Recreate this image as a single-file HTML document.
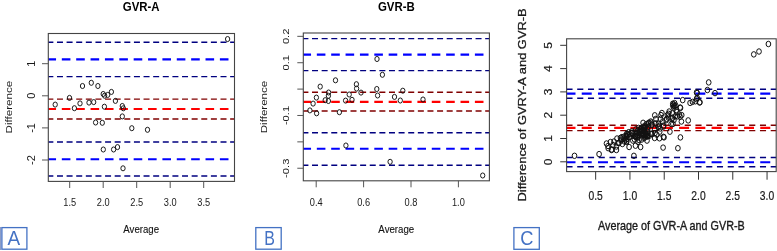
<!DOCTYPE html>
<html><head><meta charset="utf-8"><style>
html,body{margin:0;padding:0;background:#fff;}
body{width:777px;height:251px;overflow:hidden;}
svg{display:block;will-change:transform;}
text{font-family:"Liberation Sans",sans-serif;}
</style></head><body>
<svg width="777" height="251" viewBox="0 0 777 251" font-family="Liberation Sans, sans-serif">
<rect width="777" height="251" fill="#fff"/>
<line x1="48.30" y1="42.20" x2="234.50" y2="42.20" stroke="#000080" stroke-width="1.45" stroke-dasharray="6.0 3.62" stroke-dashoffset="0.95"/>
<line x1="48.30" y1="59.40" x2="234.50" y2="59.40" stroke="#0000ff" stroke-width="2.1" stroke-dasharray="8.6 5.77" stroke-dashoffset="0.85"/>
<line x1="48.30" y1="76.60" x2="234.50" y2="76.60" stroke="#000080" stroke-width="1.45" stroke-dasharray="6.0 3.62" stroke-dashoffset="0.95"/>
<line x1="48.30" y1="99.10" x2="234.50" y2="99.10" stroke="#800000" stroke-width="1.45" stroke-dasharray="6.0 3.62" stroke-dashoffset="0.95"/>
<line x1="48.30" y1="109.00" x2="234.50" y2="109.00" stroke="#ff0000" stroke-width="2.1" stroke-dasharray="8.6 5.77" stroke-dashoffset="0.85"/>
<line x1="48.30" y1="119.00" x2="234.50" y2="119.00" stroke="#800000" stroke-width="1.45" stroke-dasharray="6.0 3.62" stroke-dashoffset="0.95"/>
<line x1="48.30" y1="142.00" x2="234.50" y2="142.00" stroke="#000080" stroke-width="1.45" stroke-dasharray="6.0 3.62" stroke-dashoffset="0.95"/>
<line x1="48.30" y1="159.30" x2="234.50" y2="159.30" stroke="#0000ff" stroke-width="2.1" stroke-dasharray="8.6 5.77" stroke-dashoffset="0.85"/>
<line x1="48.30" y1="175.90" x2="234.50" y2="175.90" stroke="#000080" stroke-width="1.45" stroke-dasharray="6.0 3.62" stroke-dashoffset="0.95"/>
<ellipse cx="55.20" cy="104.60" rx="2.15" ry="2.55" fill="none" stroke="#111" stroke-width="0.95"/>
<ellipse cx="69.50" cy="97.90" rx="2.15" ry="2.55" fill="none" stroke="#111" stroke-width="0.95"/>
<ellipse cx="74.40" cy="108.20" rx="2.15" ry="2.55" fill="none" stroke="#111" stroke-width="0.95"/>
<ellipse cx="80.00" cy="103.40" rx="2.15" ry="2.55" fill="none" stroke="#111" stroke-width="0.95"/>
<ellipse cx="82.50" cy="86.00" rx="2.15" ry="2.55" fill="none" stroke="#111" stroke-width="0.95"/>
<ellipse cx="91.30" cy="82.80" rx="2.15" ry="2.55" fill="none" stroke="#111" stroke-width="0.95"/>
<ellipse cx="97.90" cy="86.00" rx="2.15" ry="2.55" fill="none" stroke="#111" stroke-width="0.95"/>
<ellipse cx="89.00" cy="102.60" rx="2.15" ry="2.55" fill="none" stroke="#111" stroke-width="0.95"/>
<ellipse cx="93.70" cy="102.10" rx="2.15" ry="2.55" fill="none" stroke="#111" stroke-width="0.95"/>
<ellipse cx="103.20" cy="94.00" rx="2.15" ry="2.55" fill="none" stroke="#111" stroke-width="0.95"/>
<ellipse cx="104.60" cy="95.70" rx="2.15" ry="2.55" fill="none" stroke="#111" stroke-width="0.95"/>
<ellipse cx="107.70" cy="94.90" rx="2.15" ry="2.55" fill="none" stroke="#111" stroke-width="0.95"/>
<ellipse cx="111.40" cy="91.90" rx="2.15" ry="2.55" fill="none" stroke="#111" stroke-width="0.95"/>
<ellipse cx="104.40" cy="106.70" rx="2.15" ry="2.55" fill="none" stroke="#111" stroke-width="0.95"/>
<ellipse cx="115.40" cy="100.90" rx="2.15" ry="2.55" fill="none" stroke="#111" stroke-width="0.95"/>
<ellipse cx="122.30" cy="106.00" rx="2.15" ry="2.55" fill="none" stroke="#111" stroke-width="0.95"/>
<ellipse cx="123.30" cy="108.30" rx="2.15" ry="2.55" fill="none" stroke="#111" stroke-width="0.95"/>
<ellipse cx="122.30" cy="116.40" rx="2.15" ry="2.55" fill="none" stroke="#111" stroke-width="0.95"/>
<ellipse cx="95.60" cy="122.50" rx="2.15" ry="2.55" fill="none" stroke="#111" stroke-width="0.95"/>
<ellipse cx="102.30" cy="122.80" rx="2.15" ry="2.55" fill="none" stroke="#111" stroke-width="0.95"/>
<ellipse cx="131.80" cy="128.20" rx="2.15" ry="2.55" fill="none" stroke="#111" stroke-width="0.95"/>
<ellipse cx="147.50" cy="129.80" rx="2.15" ry="2.55" fill="none" stroke="#111" stroke-width="0.95"/>
<ellipse cx="103.30" cy="149.50" rx="2.15" ry="2.55" fill="none" stroke="#111" stroke-width="0.95"/>
<ellipse cx="113.60" cy="149.50" rx="2.15" ry="2.55" fill="none" stroke="#111" stroke-width="0.95"/>
<ellipse cx="117.50" cy="147.10" rx="2.15" ry="2.55" fill="none" stroke="#111" stroke-width="0.95"/>
<ellipse cx="123.00" cy="168.30" rx="2.15" ry="2.55" fill="none" stroke="#111" stroke-width="0.95"/>
<ellipse cx="227.60" cy="39.05" rx="2.15" ry="2.55" fill="none" stroke="#111" stroke-width="0.95"/>
<rect x="48.30" y="33.50" width="186.20" height="147.90" fill="none" stroke="#444" stroke-width="1.1"/>
<line x1="42.00" y1="63.70" x2="48.30" y2="63.70" stroke="#555" stroke-width="1.0"/>
<g transform="translate(34.60,63.70) scale(0.93,1) rotate(-90)"><text x="0" y="0" font-size="11" font-weight="normal" text-anchor="middle" fill="#1a1a1a">1</text></g>
<line x1="42.00" y1="95.80" x2="48.30" y2="95.80" stroke="#555" stroke-width="1.0"/>
<g transform="translate(34.60,95.80) scale(0.93,1) rotate(-90)"><text x="0" y="0" font-size="11" font-weight="normal" text-anchor="middle" fill="#1a1a1a">0</text></g>
<line x1="42.00" y1="127.90" x2="48.30" y2="127.90" stroke="#555" stroke-width="1.0"/>
<g transform="translate(34.60,127.90) scale(0.93,1) rotate(-90)"><text x="0" y="0" font-size="11" font-weight="normal" text-anchor="middle" fill="#1a1a1a">-1</text></g>
<line x1="42.00" y1="160.00" x2="48.30" y2="160.00" stroke="#555" stroke-width="1.0"/>
<g transform="translate(34.60,160.00) scale(0.93,1) rotate(-90)"><text x="0" y="0" font-size="11" font-weight="normal" text-anchor="middle" fill="#1a1a1a">-2</text></g>
<line x1="69.70" y1="181.40" x2="69.70" y2="188.00" stroke="#555" stroke-width="1.0"/>
<g transform="translate(69.70,205.80) scale(0.88,1)"><text x="0" y="0" font-size="10.5" font-weight="normal" text-anchor="middle" fill="#1a1a1a">1.5</text></g>
<line x1="103.20" y1="181.40" x2="103.20" y2="188.00" stroke="#555" stroke-width="1.0"/>
<g transform="translate(103.20,205.80) scale(0.88,1)"><text x="0" y="0" font-size="10.5" font-weight="normal" text-anchor="middle" fill="#1a1a1a">2.0</text></g>
<line x1="136.70" y1="181.40" x2="136.70" y2="188.00" stroke="#555" stroke-width="1.0"/>
<g transform="translate(136.70,205.80) scale(0.88,1)"><text x="0" y="0" font-size="10.5" font-weight="normal" text-anchor="middle" fill="#1a1a1a">2.5</text></g>
<line x1="170.20" y1="181.40" x2="170.20" y2="188.00" stroke="#555" stroke-width="1.0"/>
<g transform="translate(170.20,205.80) scale(0.88,1)"><text x="0" y="0" font-size="10.5" font-weight="normal" text-anchor="middle" fill="#1a1a1a">3.0</text></g>
<line x1="203.70" y1="181.40" x2="203.70" y2="188.00" stroke="#555" stroke-width="1.0"/>
<g transform="translate(203.70,205.80) scale(0.88,1)"><text x="0" y="0" font-size="10.5" font-weight="normal" text-anchor="middle" fill="#1a1a1a">3.5</text></g>
<g transform="translate(141.20,10.80) scale(0.88,1)"><text x="0" y="0" font-size="13" font-weight="bold" text-anchor="middle" fill="#000">GVR-A</text></g>
<g transform="translate(141.20,233.10) scale(0.88,1)"><text x="0" y="0" font-size="11" font-weight="normal" text-anchor="middle" fill="#111" stroke="#111" stroke-width="0.12">Average</text></g>
<g transform="translate(11.90,107.10) scale(0.835,1) rotate(-90)"><text x="0" y="0" font-size="11.6" font-weight="normal" text-anchor="middle" fill="#1a1a1a">Difference</text></g>
<line x1="303.30" y1="38.60" x2="489.40" y2="38.60" stroke="#000080" stroke-width="1.45" stroke-dasharray="6.0 3.62" stroke-dashoffset="0.90"/>
<line x1="303.30" y1="54.60" x2="489.40" y2="54.60" stroke="#0000ff" stroke-width="2.1" stroke-dasharray="8.6 5.77" stroke-dashoffset="0.85"/>
<line x1="303.30" y1="70.60" x2="489.40" y2="70.60" stroke="#000080" stroke-width="1.45" stroke-dasharray="6.0 3.62" stroke-dashoffset="0.90"/>
<line x1="303.30" y1="92.20" x2="489.40" y2="92.20" stroke="#800000" stroke-width="1.45" stroke-dasharray="6.0 3.62" stroke-dashoffset="0.90"/>
<line x1="303.30" y1="101.90" x2="489.40" y2="101.90" stroke="#ff0000" stroke-width="2.1" stroke-dasharray="8.6 5.77" stroke-dashoffset="0.85"/>
<line x1="303.30" y1="110.90" x2="489.40" y2="110.90" stroke="#800000" stroke-width="1.45" stroke-dasharray="6.0 3.62" stroke-dashoffset="0.90"/>
<line x1="303.30" y1="132.80" x2="489.40" y2="132.80" stroke="#000080" stroke-width="1.45" stroke-dasharray="6.0 3.62" stroke-dashoffset="0.90"/>
<line x1="303.30" y1="148.80" x2="489.40" y2="148.80" stroke="#0000ff" stroke-width="2.1" stroke-dasharray="8.6 5.77" stroke-dashoffset="0.85"/>
<line x1="303.30" y1="165.30" x2="489.40" y2="165.30" stroke="#000080" stroke-width="1.45" stroke-dasharray="6.0 3.62" stroke-dashoffset="0.90"/>
<ellipse cx="335.50" cy="80.30" rx="2.15" ry="2.55" fill="none" stroke="#111" stroke-width="0.95"/>
<ellipse cx="320.20" cy="86.60" rx="2.15" ry="2.55" fill="none" stroke="#111" stroke-width="0.95"/>
<ellipse cx="328.60" cy="92.50" rx="2.15" ry="2.55" fill="none" stroke="#111" stroke-width="0.95"/>
<ellipse cx="328.40" cy="95.80" rx="2.15" ry="2.55" fill="none" stroke="#111" stroke-width="0.95"/>
<ellipse cx="316.40" cy="97.60" rx="2.15" ry="2.55" fill="none" stroke="#111" stroke-width="0.95"/>
<ellipse cx="325.20" cy="100.20" rx="2.15" ry="2.55" fill="none" stroke="#111" stroke-width="0.95"/>
<ellipse cx="328.40" cy="101.00" rx="2.15" ry="2.55" fill="none" stroke="#111" stroke-width="0.95"/>
<ellipse cx="313.10" cy="103.60" rx="2.15" ry="2.55" fill="none" stroke="#111" stroke-width="0.95"/>
<ellipse cx="309.90" cy="110.40" rx="2.15" ry="2.55" fill="none" stroke="#111" stroke-width="0.95"/>
<ellipse cx="316.60" cy="113.30" rx="2.15" ry="2.55" fill="none" stroke="#111" stroke-width="0.95"/>
<ellipse cx="339.40" cy="112.20" rx="2.15" ry="2.55" fill="none" stroke="#111" stroke-width="0.95"/>
<ellipse cx="356.40" cy="84.20" rx="2.15" ry="2.55" fill="none" stroke="#111" stroke-width="0.95"/>
<ellipse cx="356.60" cy="88.60" rx="2.15" ry="2.55" fill="none" stroke="#111" stroke-width="0.95"/>
<ellipse cx="361.00" cy="92.60" rx="2.15" ry="2.55" fill="none" stroke="#111" stroke-width="0.95"/>
<ellipse cx="349.20" cy="94.50" rx="2.15" ry="2.55" fill="none" stroke="#111" stroke-width="0.95"/>
<ellipse cx="345.60" cy="100.60" rx="2.15" ry="2.55" fill="none" stroke="#111" stroke-width="0.95"/>
<ellipse cx="352.00" cy="99.80" rx="2.15" ry="2.55" fill="none" stroke="#111" stroke-width="0.95"/>
<ellipse cx="376.80" cy="89.00" rx="2.15" ry="2.55" fill="none" stroke="#111" stroke-width="0.95"/>
<ellipse cx="377.60" cy="95.50" rx="2.15" ry="2.55" fill="none" stroke="#111" stroke-width="0.95"/>
<ellipse cx="377.00" cy="59.00" rx="2.15" ry="2.55" fill="none" stroke="#111" stroke-width="0.95"/>
<ellipse cx="382.40" cy="74.80" rx="2.15" ry="2.55" fill="none" stroke="#111" stroke-width="0.95"/>
<ellipse cx="402.80" cy="90.70" rx="2.15" ry="2.55" fill="none" stroke="#111" stroke-width="0.95"/>
<ellipse cx="394.50" cy="96.90" rx="2.15" ry="2.55" fill="none" stroke="#111" stroke-width="0.95"/>
<ellipse cx="400.30" cy="100.50" rx="2.15" ry="2.55" fill="none" stroke="#111" stroke-width="0.95"/>
<ellipse cx="423.00" cy="99.50" rx="2.15" ry="2.55" fill="none" stroke="#111" stroke-width="0.95"/>
<ellipse cx="345.90" cy="145.50" rx="2.15" ry="2.55" fill="none" stroke="#111" stroke-width="0.95"/>
<ellipse cx="390.10" cy="161.80" rx="2.15" ry="2.55" fill="none" stroke="#111" stroke-width="0.95"/>
<ellipse cx="482.70" cy="175.50" rx="2.15" ry="2.55" fill="none" stroke="#111" stroke-width="0.95"/>
<rect x="303.30" y="33.00" width="186.10" height="147.80" fill="none" stroke="#444" stroke-width="1.1"/>
<line x1="297.30" y1="36.34" x2="303.30" y2="36.34" stroke="#555" stroke-width="1.0"/>
<g transform="translate(289.30,36.34) scale(0.88,1) rotate(-90)"><text x="0" y="0" font-size="11.2" font-weight="normal" text-anchor="middle" fill="#1a1a1a">0.2</text></g>
<line x1="297.30" y1="62.72" x2="303.30" y2="62.72" stroke="#555" stroke-width="1.0"/>
<g transform="translate(289.30,62.72) scale(0.88,1) rotate(-90)"><text x="0" y="0" font-size="11.2" font-weight="normal" text-anchor="middle" fill="#1a1a1a">0.1</text></g>
<line x1="297.30" y1="89.10" x2="303.30" y2="89.10" stroke="#555" stroke-width="1.0"/>
<line x1="297.30" y1="115.48" x2="303.30" y2="115.48" stroke="#555" stroke-width="1.0"/>
<g transform="translate(289.30,115.48) scale(0.88,1) rotate(-90)"><text x="0" y="0" font-size="11.2" font-weight="normal" text-anchor="middle" fill="#1a1a1a">-0.1</text></g>
<line x1="297.30" y1="141.86" x2="303.30" y2="141.86" stroke="#555" stroke-width="1.0"/>
<line x1="297.30" y1="168.24" x2="303.30" y2="168.24" stroke="#555" stroke-width="1.0"/>
<g transform="translate(289.30,168.24) scale(0.88,1) rotate(-90)"><text x="0" y="0" font-size="11.2" font-weight="normal" text-anchor="middle" fill="#1a1a1a">-0.3</text></g>
<line x1="316.20" y1="180.80" x2="316.20" y2="187.30" stroke="#555" stroke-width="1.0"/>
<g transform="translate(316.20,205.80) scale(0.88,1)"><text x="0" y="0" font-size="10.5" font-weight="normal" text-anchor="middle" fill="#1a1a1a">0.4</text></g>
<line x1="363.60" y1="180.80" x2="363.60" y2="187.30" stroke="#555" stroke-width="1.0"/>
<g transform="translate(363.60,205.80) scale(0.88,1)"><text x="0" y="0" font-size="10.5" font-weight="normal" text-anchor="middle" fill="#1a1a1a">0.6</text></g>
<line x1="411.00" y1="180.80" x2="411.00" y2="187.30" stroke="#555" stroke-width="1.0"/>
<g transform="translate(411.00,205.80) scale(0.88,1)"><text x="0" y="0" font-size="10.5" font-weight="normal" text-anchor="middle" fill="#1a1a1a">0.8</text></g>
<line x1="458.40" y1="180.80" x2="458.40" y2="187.30" stroke="#555" stroke-width="1.0"/>
<g transform="translate(458.40,205.80) scale(0.88,1)"><text x="0" y="0" font-size="10.5" font-weight="normal" text-anchor="middle" fill="#1a1a1a">1.0</text></g>
<g transform="translate(396.30,10.55) scale(0.88,1)"><text x="0" y="0" font-size="13" font-weight="bold" text-anchor="middle" fill="#000">GVR-B</text></g>
<g transform="translate(396.30,232.80) scale(0.88,1)"><text x="0" y="0" font-size="11" font-weight="normal" text-anchor="middle" fill="#111" stroke="#111" stroke-width="0.12">Average</text></g>
<g transform="translate(266.90,107.00) scale(0.835,1) rotate(-90)"><text x="0" y="0" font-size="11.6" font-weight="normal" text-anchor="middle" fill="#1a1a1a">Difference</text></g>
<line x1="566.60" y1="89.20" x2="776.20" y2="89.20" stroke="#000080" stroke-width="1.4" stroke-dasharray="6.1 4.65" stroke-dashoffset="0.15"/>
<line x1="566.60" y1="93.60" x2="776.20" y2="93.60" stroke="#0000ff" stroke-width="2.1" stroke-dasharray="10.0 6.23" stroke-dashoffset="1.10"/>
<line x1="566.60" y1="98.30" x2="776.20" y2="98.30" stroke="#000080" stroke-width="1.4" stroke-dasharray="6.1 4.65" stroke-dashoffset="0.15"/>
<line x1="566.60" y1="125.20" x2="776.20" y2="125.20" stroke="#800000" stroke-width="1.4" stroke-dasharray="6.1 4.65" stroke-dashoffset="0.15"/>
<line x1="566.60" y1="127.90" x2="776.20" y2="127.90" stroke="#ff0000" stroke-width="2.1" stroke-dasharray="10.0 6.23" stroke-dashoffset="1.10"/>
<line x1="566.60" y1="130.60" x2="776.20" y2="130.60" stroke="#800000" stroke-width="1.4" stroke-dasharray="6.1 4.65" stroke-dashoffset="0.15"/>
<line x1="566.60" y1="157.50" x2="776.20" y2="157.50" stroke="#000080" stroke-width="1.4" stroke-dasharray="6.1 4.65" stroke-dashoffset="0.15"/>
<line x1="566.60" y1="162.30" x2="776.20" y2="162.30" stroke="#0000ff" stroke-width="2.1" stroke-dasharray="10.0 6.23" stroke-dashoffset="1.10"/>
<line x1="566.60" y1="166.70" x2="776.20" y2="166.70" stroke="#000080" stroke-width="1.4" stroke-dasharray="6.1 4.65" stroke-dashoffset="0.15"/>
<ellipse cx="599.10" cy="154.10" rx="2.35" ry="2.75" fill="none" stroke="#111" stroke-width="1.0"/>
<ellipse cx="633.90" cy="155.80" rx="2.35" ry="2.75" fill="none" stroke="#111" stroke-width="1.0"/>
<ellipse cx="574.50" cy="155.80" rx="2.35" ry="2.75" fill="none" stroke="#111" stroke-width="1.0"/>
<ellipse cx="768.40" cy="44.00" rx="2.35" ry="2.75" fill="none" stroke="#111" stroke-width="1.0"/>
<ellipse cx="753.80" cy="54.40" rx="2.35" ry="2.75" fill="none" stroke="#111" stroke-width="1.0"/>
<ellipse cx="759.00" cy="51.50" rx="2.35" ry="2.75" fill="none" stroke="#111" stroke-width="1.0"/>
<ellipse cx="708.70" cy="82.40" rx="2.35" ry="2.75" fill="none" stroke="#111" stroke-width="1.0"/>
<ellipse cx="707.40" cy="90.00" rx="2.35" ry="2.75" fill="none" stroke="#111" stroke-width="1.0"/>
<ellipse cx="715.00" cy="93.10" rx="2.35" ry="2.75" fill="none" stroke="#111" stroke-width="1.0"/>
<ellipse cx="697.10" cy="93.00" rx="2.35" ry="2.75" fill="none" stroke="#111" stroke-width="1.0"/>
<ellipse cx="697.10" cy="97.90" rx="2.35" ry="2.75" fill="none" stroke="#111" stroke-width="1.0"/>
<ellipse cx="699.90" cy="102.20" rx="2.35" ry="2.75" fill="none" stroke="#111" stroke-width="1.0"/>
<ellipse cx="696.60" cy="92.40" rx="2.35" ry="2.75" fill="none" stroke="#111" stroke-width="1.0"/>
<ellipse cx="682.70" cy="100.10" rx="2.35" ry="2.75" fill="none" stroke="#111" stroke-width="1.0"/>
<ellipse cx="690.10" cy="102.90" rx="2.35" ry="2.75" fill="none" stroke="#111" stroke-width="1.0"/>
<ellipse cx="692.50" cy="101.90" rx="2.35" ry="2.75" fill="none" stroke="#111" stroke-width="1.0"/>
<ellipse cx="695.40" cy="101.30" rx="2.35" ry="2.75" fill="none" stroke="#111" stroke-width="1.0"/>
<ellipse cx="696.60" cy="99.00" rx="2.35" ry="2.75" fill="none" stroke="#111" stroke-width="1.0"/>
<ellipse cx="699.60" cy="102.50" rx="2.35" ry="2.75" fill="none" stroke="#111" stroke-width="1.0"/>
<ellipse cx="672.80" cy="103.70" rx="2.35" ry="2.75" fill="none" stroke="#111" stroke-width="1.0"/>
<ellipse cx="672.80" cy="105.50" rx="2.35" ry="2.75" fill="none" stroke="#111" stroke-width="1.0"/>
<ellipse cx="674.60" cy="103.10" rx="2.35" ry="2.75" fill="none" stroke="#111" stroke-width="1.0"/>
<ellipse cx="675.70" cy="105.50" rx="2.35" ry="2.75" fill="none" stroke="#111" stroke-width="1.0"/>
<ellipse cx="680.50" cy="107.90" rx="2.35" ry="2.75" fill="none" stroke="#111" stroke-width="1.0"/>
<ellipse cx="669.20" cy="111.50" rx="2.35" ry="2.75" fill="none" stroke="#111" stroke-width="1.0"/>
<ellipse cx="672.20" cy="113.30" rx="2.35" ry="2.75" fill="none" stroke="#111" stroke-width="1.0"/>
<ellipse cx="676.90" cy="112.10" rx="2.35" ry="2.75" fill="none" stroke="#111" stroke-width="1.0"/>
<ellipse cx="679.30" cy="114.50" rx="2.35" ry="2.75" fill="none" stroke="#111" stroke-width="1.0"/>
<ellipse cx="681.70" cy="115.10" rx="2.35" ry="2.75" fill="none" stroke="#111" stroke-width="1.0"/>
<ellipse cx="667.40" cy="115.10" rx="2.35" ry="2.75" fill="none" stroke="#111" stroke-width="1.0"/>
<ellipse cx="675.10" cy="116.30" rx="2.35" ry="2.75" fill="none" stroke="#111" stroke-width="1.0"/>
<ellipse cx="688.20" cy="120.40" rx="2.35" ry="2.75" fill="none" stroke="#111" stroke-width="1.0"/>
<ellipse cx="680.10" cy="116.80" rx="2.35" ry="2.75" fill="none" stroke="#111" stroke-width="1.0"/>
<ellipse cx="680.40" cy="137.40" rx="2.35" ry="2.75" fill="none" stroke="#111" stroke-width="1.0"/>
<ellipse cx="663.10" cy="147.60" rx="2.35" ry="2.75" fill="none" stroke="#111" stroke-width="1.0"/>
<ellipse cx="677.90" cy="148.20" rx="2.35" ry="2.75" fill="none" stroke="#111" stroke-width="1.0"/>
<ellipse cx="664.00" cy="137.40" rx="2.35" ry="2.75" fill="none" stroke="#111" stroke-width="1.0"/>
<ellipse cx="659.50" cy="138.30" rx="2.35" ry="2.75" fill="none" stroke="#111" stroke-width="1.0"/>
<ellipse cx="656.80" cy="134.70" rx="2.35" ry="2.75" fill="none" stroke="#111" stroke-width="1.0"/>
<ellipse cx="672.90" cy="124.00" rx="2.35" ry="2.75" fill="none" stroke="#111" stroke-width="1.0"/>
<ellipse cx="672.00" cy="118.60" rx="2.35" ry="2.75" fill="none" stroke="#111" stroke-width="1.0"/>
<ellipse cx="668.40" cy="117.70" rx="2.35" ry="2.75" fill="none" stroke="#111" stroke-width="1.0"/>
<ellipse cx="606.50" cy="143.50" rx="2.35" ry="2.75" fill="none" stroke="#111" stroke-width="1.0"/>
<ellipse cx="608.00" cy="146.00" rx="2.35" ry="2.75" fill="none" stroke="#111" stroke-width="1.0"/>
<ellipse cx="610.50" cy="142.00" rx="2.35" ry="2.75" fill="none" stroke="#111" stroke-width="1.0"/>
<ellipse cx="611.50" cy="150.00" rx="2.35" ry="2.75" fill="none" stroke="#111" stroke-width="1.0"/>
<ellipse cx="613.00" cy="145.00" rx="2.35" ry="2.75" fill="none" stroke="#111" stroke-width="1.0"/>
<ellipse cx="614.00" cy="141.50" rx="2.35" ry="2.75" fill="none" stroke="#111" stroke-width="1.0"/>
<ellipse cx="616.40" cy="150.00" rx="2.35" ry="2.75" fill="none" stroke="#111" stroke-width="1.0"/>
<ellipse cx="616.40" cy="146.50" rx="2.35" ry="2.75" fill="none" stroke="#111" stroke-width="1.0"/>
<ellipse cx="617.00" cy="138.50" rx="2.35" ry="2.75" fill="none" stroke="#111" stroke-width="1.0"/>
<ellipse cx="618.00" cy="143.00" rx="2.35" ry="2.75" fill="none" stroke="#111" stroke-width="1.0"/>
<ellipse cx="621.00" cy="140.50" rx="2.35" ry="2.75" fill="none" stroke="#111" stroke-width="1.0"/>
<ellipse cx="622.00" cy="137.00" rx="2.35" ry="2.75" fill="none" stroke="#111" stroke-width="1.0"/>
<ellipse cx="622.40" cy="144.00" rx="2.35" ry="2.75" fill="none" stroke="#111" stroke-width="1.0"/>
<ellipse cx="624.40" cy="141.50" rx="2.35" ry="2.75" fill="none" stroke="#111" stroke-width="1.0"/>
<ellipse cx="625.00" cy="136.00" rx="2.35" ry="2.75" fill="none" stroke="#111" stroke-width="1.0"/>
<ellipse cx="627.00" cy="139.00" rx="2.35" ry="2.75" fill="none" stroke="#111" stroke-width="1.0"/>
<ellipse cx="627.00" cy="134.00" rx="2.35" ry="2.75" fill="none" stroke="#111" stroke-width="1.0"/>
<ellipse cx="608.20" cy="148.20" rx="2.35" ry="2.75" fill="none" stroke="#111" stroke-width="1.0"/>
<ellipse cx="611.80" cy="149.50" rx="2.35" ry="2.75" fill="none" stroke="#111" stroke-width="1.0"/>
<ellipse cx="618.90" cy="143.10" rx="2.35" ry="2.75" fill="none" stroke="#111" stroke-width="1.0"/>
<ellipse cx="621.50" cy="139.30" rx="2.35" ry="2.75" fill="none" stroke="#111" stroke-width="1.0"/>
<ellipse cx="626.60" cy="141.90" rx="2.35" ry="2.75" fill="none" stroke="#111" stroke-width="1.0"/>
<ellipse cx="629.10" cy="147.00" rx="2.35" ry="2.75" fill="none" stroke="#111" stroke-width="1.0"/>
<ellipse cx="629.10" cy="136.80" rx="2.35" ry="2.75" fill="none" stroke="#111" stroke-width="1.0"/>
<ellipse cx="631.70" cy="132.90" rx="2.35" ry="2.75" fill="none" stroke="#111" stroke-width="1.0"/>
<ellipse cx="632.90" cy="140.60" rx="2.35" ry="2.75" fill="none" stroke="#111" stroke-width="1.0"/>
<ellipse cx="635.50" cy="145.70" rx="2.35" ry="2.75" fill="none" stroke="#111" stroke-width="1.0"/>
<ellipse cx="636.80" cy="136.80" rx="2.35" ry="2.75" fill="none" stroke="#111" stroke-width="1.0"/>
<ellipse cx="638.00" cy="141.90" rx="2.35" ry="2.75" fill="none" stroke="#111" stroke-width="1.0"/>
<ellipse cx="640.60" cy="147.00" rx="2.35" ry="2.75" fill="none" stroke="#111" stroke-width="1.0"/>
<ellipse cx="639.30" cy="131.70" rx="2.35" ry="2.75" fill="none" stroke="#111" stroke-width="1.0"/>
<ellipse cx="641.90" cy="127.80" rx="2.35" ry="2.75" fill="none" stroke="#111" stroke-width="1.0"/>
<ellipse cx="643.10" cy="122.80" rx="2.35" ry="2.75" fill="none" stroke="#111" stroke-width="1.0"/>
<ellipse cx="644.40" cy="136.80" rx="2.35" ry="2.75" fill="none" stroke="#111" stroke-width="1.0"/>
<ellipse cx="647.00" cy="140.60" rx="2.35" ry="2.75" fill="none" stroke="#111" stroke-width="1.0"/>
<ellipse cx="647.00" cy="131.70" rx="2.35" ry="2.75" fill="none" stroke="#111" stroke-width="1.0"/>
<ellipse cx="648.20" cy="126.60" rx="2.35" ry="2.75" fill="none" stroke="#111" stroke-width="1.0"/>
<ellipse cx="650.80" cy="121.50" rx="2.35" ry="2.75" fill="none" stroke="#111" stroke-width="1.0"/>
<ellipse cx="652.10" cy="134.20" rx="2.35" ry="2.75" fill="none" stroke="#111" stroke-width="1.0"/>
<ellipse cx="654.60" cy="138.00" rx="2.35" ry="2.75" fill="none" stroke="#111" stroke-width="1.0"/>
<ellipse cx="654.60" cy="129.10" rx="2.35" ry="2.75" fill="none" stroke="#111" stroke-width="1.0"/>
<ellipse cx="655.90" cy="118.90" rx="2.35" ry="2.75" fill="none" stroke="#111" stroke-width="1.0"/>
<ellipse cx="658.40" cy="124.00" rx="2.35" ry="2.75" fill="none" stroke="#111" stroke-width="1.0"/>
<ellipse cx="659.70" cy="131.70" rx="2.35" ry="2.75" fill="none" stroke="#111" stroke-width="1.0"/>
<ellipse cx="661.00" cy="115.10" rx="2.35" ry="2.75" fill="none" stroke="#111" stroke-width="1.0"/>
<ellipse cx="663.50" cy="126.60" rx="2.35" ry="2.75" fill="none" stroke="#111" stroke-width="1.0"/>
<ellipse cx="663.50" cy="136.80" rx="2.35" ry="2.75" fill="none" stroke="#111" stroke-width="1.0"/>
<ellipse cx="666.10" cy="120.20" rx="2.35" ry="2.75" fill="none" stroke="#111" stroke-width="1.0"/>
<ellipse cx="668.60" cy="113.80" rx="2.35" ry="2.75" fill="none" stroke="#111" stroke-width="1.0"/>
<ellipse cx="669.90" cy="131.70" rx="2.35" ry="2.75" fill="none" stroke="#111" stroke-width="1.0"/>
<ellipse cx="671.20" cy="124.00" rx="2.35" ry="2.75" fill="none" stroke="#111" stroke-width="1.0"/>
<ellipse cx="672.40" cy="117.70" rx="2.35" ry="2.75" fill="none" stroke="#111" stroke-width="1.0"/>
<ellipse cx="673.70" cy="107.50" rx="2.35" ry="2.75" fill="none" stroke="#111" stroke-width="1.0"/>
<ellipse cx="676.30" cy="110.00" rx="2.35" ry="2.75" fill="none" stroke="#111" stroke-width="1.0"/>
<ellipse cx="677.50" cy="116.40" rx="2.35" ry="2.75" fill="none" stroke="#111" stroke-width="1.0"/>
<ellipse cx="680.10" cy="107.50" rx="2.35" ry="2.75" fill="none" stroke="#111" stroke-width="1.0"/>
<ellipse cx="681.40" cy="121.50" rx="2.35" ry="2.75" fill="none" stroke="#111" stroke-width="1.0"/>
<ellipse cx="673.50" cy="104.50" rx="2.35" ry="2.75" fill="none" stroke="#111" stroke-width="1.0"/>
<ellipse cx="674.50" cy="106.20" rx="2.35" ry="2.75" fill="none" stroke="#111" stroke-width="1.0"/>
<ellipse cx="654.80" cy="115.30" rx="2.35" ry="2.75" fill="none" stroke="#111" stroke-width="1.0"/>
<ellipse cx="661.90" cy="113.00" rx="2.35" ry="2.75" fill="none" stroke="#111" stroke-width="1.0"/>
<ellipse cx="666.70" cy="118.90" rx="2.35" ry="2.75" fill="none" stroke="#111" stroke-width="1.0"/>
<ellipse cx="673.90" cy="120.10" rx="2.35" ry="2.75" fill="none" stroke="#111" stroke-width="1.0"/>
<ellipse cx="634.74" cy="135.93" rx="2.35" ry="2.75" fill="none" stroke="#111" stroke-width="1.0"/>
<ellipse cx="644.36" cy="130.90" rx="2.35" ry="2.75" fill="none" stroke="#111" stroke-width="1.0"/>
<ellipse cx="635.61" cy="135.92" rx="2.35" ry="2.75" fill="none" stroke="#111" stroke-width="1.0"/>
<ellipse cx="629.41" cy="137.28" rx="2.35" ry="2.75" fill="none" stroke="#111" stroke-width="1.0"/>
<ellipse cx="637.53" cy="137.72" rx="2.35" ry="2.75" fill="none" stroke="#111" stroke-width="1.0"/>
<ellipse cx="626.72" cy="136.10" rx="2.35" ry="2.75" fill="none" stroke="#111" stroke-width="1.0"/>
<ellipse cx="626.60" cy="141.33" rx="2.35" ry="2.75" fill="none" stroke="#111" stroke-width="1.0"/>
<ellipse cx="638.65" cy="127.90" rx="2.35" ry="2.75" fill="none" stroke="#111" stroke-width="1.0"/>
<ellipse cx="647.27" cy="136.44" rx="2.35" ry="2.75" fill="none" stroke="#111" stroke-width="1.0"/>
<ellipse cx="637.94" cy="135.36" rx="2.35" ry="2.75" fill="none" stroke="#111" stroke-width="1.0"/>
<ellipse cx="628.69" cy="132.21" rx="2.35" ry="2.75" fill="none" stroke="#111" stroke-width="1.0"/>
<ellipse cx="635.93" cy="129.35" rx="2.35" ry="2.75" fill="none" stroke="#111" stroke-width="1.0"/>
<ellipse cx="629.56" cy="134.28" rx="2.35" ry="2.75" fill="none" stroke="#111" stroke-width="1.0"/>
<ellipse cx="623.80" cy="138.83" rx="2.35" ry="2.75" fill="none" stroke="#111" stroke-width="1.0"/>
<ellipse cx="634.54" cy="139.41" rx="2.35" ry="2.75" fill="none" stroke="#111" stroke-width="1.0"/>
<ellipse cx="635.79" cy="136.50" rx="2.35" ry="2.75" fill="none" stroke="#111" stroke-width="1.0"/>
<ellipse cx="635.49" cy="136.88" rx="2.35" ry="2.75" fill="none" stroke="#111" stroke-width="1.0"/>
<ellipse cx="634.82" cy="132.49" rx="2.35" ry="2.75" fill="none" stroke="#111" stroke-width="1.0"/>
<ellipse cx="649.01" cy="136.00" rx="2.35" ry="2.75" fill="none" stroke="#111" stroke-width="1.0"/>
<ellipse cx="641.81" cy="135.06" rx="2.35" ry="2.75" fill="none" stroke="#111" stroke-width="1.0"/>
<ellipse cx="632.30" cy="132.98" rx="2.35" ry="2.75" fill="none" stroke="#111" stroke-width="1.0"/>
<ellipse cx="631.78" cy="131.37" rx="2.35" ry="2.75" fill="none" stroke="#111" stroke-width="1.0"/>
<ellipse cx="640.09" cy="131.80" rx="2.35" ry="2.75" fill="none" stroke="#111" stroke-width="1.0"/>
<ellipse cx="641.97" cy="130.84" rx="2.35" ry="2.75" fill="none" stroke="#111" stroke-width="1.0"/>
<ellipse cx="645.80" cy="135.42" rx="2.35" ry="2.75" fill="none" stroke="#111" stroke-width="1.0"/>
<ellipse cx="620.51" cy="137.89" rx="2.35" ry="2.75" fill="none" stroke="#111" stroke-width="1.0"/>
<ellipse cx="643.86" cy="131.16" rx="2.35" ry="2.75" fill="none" stroke="#111" stroke-width="1.0"/>
<ellipse cx="647.13" cy="128.85" rx="2.35" ry="2.75" fill="none" stroke="#111" stroke-width="1.0"/>
<ellipse cx="625.92" cy="139.71" rx="2.35" ry="2.75" fill="none" stroke="#111" stroke-width="1.0"/>
<ellipse cx="640.36" cy="130.03" rx="2.35" ry="2.75" fill="none" stroke="#111" stroke-width="1.0"/>
<ellipse cx="626.47" cy="136.51" rx="2.35" ry="2.75" fill="none" stroke="#111" stroke-width="1.0"/>
<ellipse cx="646.12" cy="134.11" rx="2.35" ry="2.75" fill="none" stroke="#111" stroke-width="1.0"/>
<ellipse cx="627.53" cy="135.18" rx="2.35" ry="2.75" fill="none" stroke="#111" stroke-width="1.0"/>
<ellipse cx="626.96" cy="133.49" rx="2.35" ry="2.75" fill="none" stroke="#111" stroke-width="1.0"/>
<ellipse cx="640.77" cy="128.67" rx="2.35" ry="2.75" fill="none" stroke="#111" stroke-width="1.0"/>
<ellipse cx="636.39" cy="133.90" rx="2.35" ry="2.75" fill="none" stroke="#111" stroke-width="1.0"/>
<ellipse cx="644.04" cy="134.94" rx="2.35" ry="2.75" fill="none" stroke="#111" stroke-width="1.0"/>
<ellipse cx="642.50" cy="134.22" rx="2.35" ry="2.75" fill="none" stroke="#111" stroke-width="1.0"/>
<ellipse cx="642.07" cy="131.11" rx="2.35" ry="2.75" fill="none" stroke="#111" stroke-width="1.0"/>
<ellipse cx="644.56" cy="127.83" rx="2.35" ry="2.75" fill="none" stroke="#111" stroke-width="1.0"/>
<ellipse cx="663.62" cy="125.55" rx="2.35" ry="2.75" fill="none" stroke="#111" stroke-width="1.0"/>
<ellipse cx="646.42" cy="136.39" rx="2.35" ry="2.75" fill="none" stroke="#111" stroke-width="1.0"/>
<ellipse cx="644.51" cy="129.71" rx="2.35" ry="2.75" fill="none" stroke="#111" stroke-width="1.0"/>
<ellipse cx="658.20" cy="126.92" rx="2.35" ry="2.75" fill="none" stroke="#111" stroke-width="1.0"/>
<ellipse cx="641.56" cy="139.61" rx="2.35" ry="2.75" fill="none" stroke="#111" stroke-width="1.0"/>
<ellipse cx="644.56" cy="127.65" rx="2.35" ry="2.75" fill="none" stroke="#111" stroke-width="1.0"/>
<ellipse cx="655.75" cy="123.34" rx="2.35" ry="2.75" fill="none" stroke="#111" stroke-width="1.0"/>
<ellipse cx="646.27" cy="124.10" rx="2.35" ry="2.75" fill="none" stroke="#111" stroke-width="1.0"/>
<ellipse cx="641.22" cy="133.82" rx="2.35" ry="2.75" fill="none" stroke="#111" stroke-width="1.0"/>
<ellipse cx="645.21" cy="132.54" rx="2.35" ry="2.75" fill="none" stroke="#111" stroke-width="1.0"/>
<ellipse cx="647.63" cy="129.27" rx="2.35" ry="2.75" fill="none" stroke="#111" stroke-width="1.0"/>
<ellipse cx="662.81" cy="121.43" rx="2.35" ry="2.75" fill="none" stroke="#111" stroke-width="1.0"/>
<ellipse cx="651.24" cy="133.80" rx="2.35" ry="2.75" fill="none" stroke="#111" stroke-width="1.0"/>
<ellipse cx="643.86" cy="126.41" rx="2.35" ry="2.75" fill="none" stroke="#111" stroke-width="1.0"/>
<ellipse cx="660.23" cy="128.45" rx="2.35" ry="2.75" fill="none" stroke="#111" stroke-width="1.0"/>
<ellipse cx="645.35" cy="126.28" rx="2.35" ry="2.75" fill="none" stroke="#111" stroke-width="1.0"/>
<ellipse cx="654.89" cy="133.13" rx="2.35" ry="2.75" fill="none" stroke="#111" stroke-width="1.0"/>
<ellipse cx="644.18" cy="138.15" rx="2.35" ry="2.75" fill="none" stroke="#111" stroke-width="1.0"/>
<ellipse cx="659.18" cy="125.84" rx="2.35" ry="2.75" fill="none" stroke="#111" stroke-width="1.0"/>
<ellipse cx="648.46" cy="123.51" rx="2.35" ry="2.75" fill="none" stroke="#111" stroke-width="1.0"/>
<ellipse cx="639.07" cy="140.07" rx="2.35" ry="2.75" fill="none" stroke="#111" stroke-width="1.0"/>
<ellipse cx="645.11" cy="134.13" rx="2.35" ry="2.75" fill="none" stroke="#111" stroke-width="1.0"/>
<ellipse cx="645.50" cy="135.79" rx="2.35" ry="2.75" fill="none" stroke="#111" stroke-width="1.0"/>
<ellipse cx="651.68" cy="124.82" rx="2.35" ry="2.75" fill="none" stroke="#111" stroke-width="1.0"/>
<ellipse cx="643.68" cy="134.91" rx="2.35" ry="2.75" fill="none" stroke="#111" stroke-width="1.0"/>
<ellipse cx="640.43" cy="129.01" rx="2.35" ry="2.75" fill="none" stroke="#111" stroke-width="1.0"/>
<ellipse cx="650.95" cy="133.73" rx="2.35" ry="2.75" fill="none" stroke="#111" stroke-width="1.0"/>
<ellipse cx="652.05" cy="124.43" rx="2.35" ry="2.75" fill="none" stroke="#111" stroke-width="1.0"/>
<ellipse cx="660.61" cy="118.82" rx="2.35" ry="2.75" fill="none" stroke="#111" stroke-width="1.0"/>
<ellipse cx="637.67" cy="130.78" rx="2.35" ry="2.75" fill="none" stroke="#111" stroke-width="1.0"/>
<ellipse cx="648.87" cy="122.65" rx="2.35" ry="2.75" fill="none" stroke="#111" stroke-width="1.0"/>
<ellipse cx="643.70" cy="129.67" rx="2.35" ry="2.75" fill="none" stroke="#111" stroke-width="1.0"/>
<ellipse cx="651.20" cy="122.58" rx="2.35" ry="2.75" fill="none" stroke="#111" stroke-width="1.0"/>
<ellipse cx="647.46" cy="136.05" rx="2.35" ry="2.75" fill="none" stroke="#111" stroke-width="1.0"/>
<rect x="566.60" y="38.80" width="209.60" height="132.80" fill="none" stroke="#444" stroke-width="1.1"/>
<line x1="560.20" y1="161.80" x2="566.60" y2="161.80" stroke="#333" stroke-width="1.0"/>
<g transform="translate(552.00,161.80) scale(0.86,1) rotate(-90)"><text x="0" y="0" font-size="12" font-weight="normal" text-anchor="middle" fill="#1a1a1a" stroke="#1a1a1a" stroke-width="0.2">0</text></g>
<line x1="560.20" y1="138.50" x2="566.60" y2="138.50" stroke="#333" stroke-width="1.0"/>
<g transform="translate(552.00,138.50) scale(0.86,1) rotate(-90)"><text x="0" y="0" font-size="12" font-weight="normal" text-anchor="middle" fill="#1a1a1a" stroke="#1a1a1a" stroke-width="0.2">1</text></g>
<line x1="560.20" y1="115.20" x2="566.60" y2="115.20" stroke="#333" stroke-width="1.0"/>
<g transform="translate(552.00,115.20) scale(0.86,1) rotate(-90)"><text x="0" y="0" font-size="12" font-weight="normal" text-anchor="middle" fill="#1a1a1a" stroke="#1a1a1a" stroke-width="0.2">2</text></g>
<line x1="560.20" y1="91.90" x2="566.60" y2="91.90" stroke="#333" stroke-width="1.0"/>
<g transform="translate(552.00,91.90) scale(0.86,1) rotate(-90)"><text x="0" y="0" font-size="12" font-weight="normal" text-anchor="middle" fill="#1a1a1a" stroke="#1a1a1a" stroke-width="0.2">3</text></g>
<line x1="560.20" y1="68.60" x2="566.60" y2="68.60" stroke="#333" stroke-width="1.0"/>
<g transform="translate(552.00,68.60) scale(0.86,1) rotate(-90)"><text x="0" y="0" font-size="12" font-weight="normal" text-anchor="middle" fill="#1a1a1a" stroke="#1a1a1a" stroke-width="0.2">4</text></g>
<line x1="560.20" y1="45.30" x2="566.60" y2="45.30" stroke="#333" stroke-width="1.0"/>
<g transform="translate(552.00,45.30) scale(0.86,1) rotate(-90)"><text x="0" y="0" font-size="12" font-weight="normal" text-anchor="middle" fill="#1a1a1a" stroke="#1a1a1a" stroke-width="0.2">5</text></g>
<line x1="595.67" y1="171.60" x2="595.67" y2="179.70" stroke="#333" stroke-width="1.0"/>
<g transform="translate(595.67,199.60) scale(0.86,1)"><text x="0" y="0" font-size="12" font-weight="normal" text-anchor="middle" fill="#1a1a1a" stroke="#1a1a1a" stroke-width="0.2">0.5</text></g>
<line x1="629.95" y1="171.60" x2="629.95" y2="179.70" stroke="#333" stroke-width="1.0"/>
<g transform="translate(629.95,199.60) scale(0.86,1)"><text x="0" y="0" font-size="12" font-weight="normal" text-anchor="middle" fill="#1a1a1a" stroke="#1a1a1a" stroke-width="0.2">1.0</text></g>
<line x1="664.22" y1="171.60" x2="664.22" y2="179.70" stroke="#333" stroke-width="1.0"/>
<g transform="translate(664.22,199.60) scale(0.86,1)"><text x="0" y="0" font-size="12" font-weight="normal" text-anchor="middle" fill="#1a1a1a" stroke="#1a1a1a" stroke-width="0.2">1.5</text></g>
<line x1="698.50" y1="171.60" x2="698.50" y2="179.70" stroke="#333" stroke-width="1.0"/>
<g transform="translate(698.50,199.60) scale(0.86,1)"><text x="0" y="0" font-size="12" font-weight="normal" text-anchor="middle" fill="#1a1a1a" stroke="#1a1a1a" stroke-width="0.2">2.0</text></g>
<line x1="732.77" y1="171.60" x2="732.77" y2="179.70" stroke="#333" stroke-width="1.0"/>
<g transform="translate(732.77,199.60) scale(0.86,1)"><text x="0" y="0" font-size="12" font-weight="normal" text-anchor="middle" fill="#1a1a1a" stroke="#1a1a1a" stroke-width="0.2">2.5</text></g>
<line x1="767.05" y1="171.60" x2="767.05" y2="179.70" stroke="#333" stroke-width="1.0"/>
<g transform="translate(767.05,199.60) scale(0.86,1)"><text x="0" y="0" font-size="12" font-weight="normal" text-anchor="middle" fill="#1a1a1a" stroke="#1a1a1a" stroke-width="0.2">3.0</text></g>
<g transform="translate(671.40,229.80) scale(0.858,1)"><text x="0" y="0" font-size="12.6" font-weight="normal" text-anchor="middle" fill="#1a1a1a" stroke="#1a1a1a" stroke-width="0.35">Average of GVR-A and GVR-B</text></g>
<g transform="translate(525.80,104.90) scale(0.83,1) rotate(-90)"><text x="0" y="0" font-size="12.9" font-weight="normal" text-anchor="middle" fill="#1a1a1a" stroke="#1a1a1a" stroke-width="0.35">Difference of GVRY-A and GVR-B</text></g>
<rect x="0" y="227" width="1.2" height="23" fill="#8a9cc8"/>
<rect x="1.90" y="227.60" width="25.00" height="21.60" fill="none" stroke="#4472c4" stroke-width="1.3"/>
<g transform="translate(13.90,245.20) scale(0.95,1)"><text x="0" y="0" font-size="20" font-weight="normal" text-anchor="middle" fill="#4472c4">A</text></g>
<rect x="255.80" y="227.60" width="25.40" height="21.60" fill="none" stroke="#4472c4" stroke-width="1.3"/>
<g transform="translate(269.50,244.60) scale(0.82,1)"><text x="0" y="0" font-size="19.5" font-weight="normal" text-anchor="middle" fill="#4472c4">B</text></g>
<rect x="513.90" y="227.60" width="25.40" height="21.70" fill="none" stroke="#4472c4" stroke-width="1.3"/>
<g transform="translate(526.80,245.40) scale(0.87,1)"><text x="0" y="0" font-size="21" font-weight="normal" text-anchor="middle" fill="#4472c4">C</text></g>
</svg>
</body></html>
